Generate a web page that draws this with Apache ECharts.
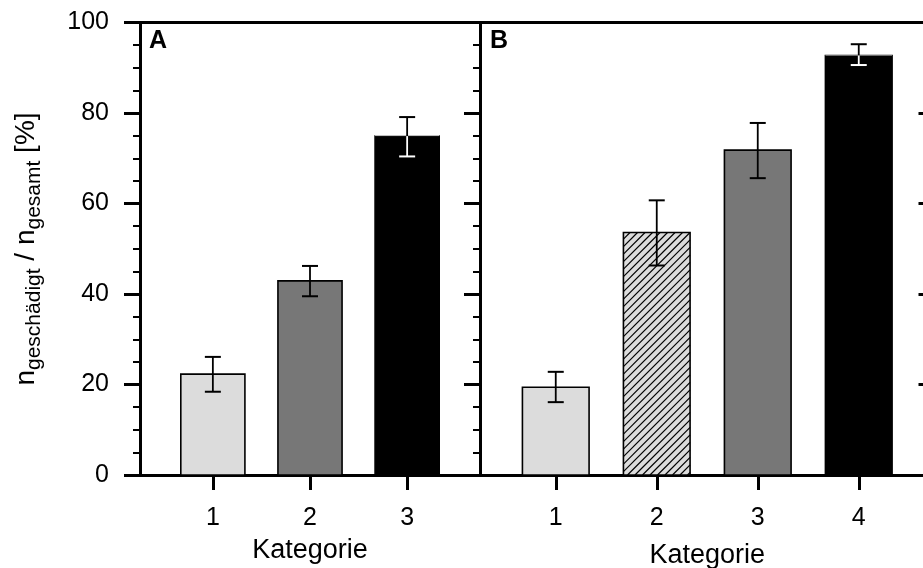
<!DOCTYPE html>
<html><head><meta charset="utf-8">
<script src="https://cdn.jsdelivr.net/npm/echarts@6/dist/echarts.min.js"></script>
<style>html,body{margin:0;padding:0;background:#fff}#c{width:923px;height:568px}</style>
</head><body><div id="c"></div>
<script>
// ---- data ----
const yTicks = [0, 20, 40, 60, 80, 100];
const catsA = [1, 2, 3];
const labelsA = ['1', '2', '3'];
const meanA = [22.3, 42.9, 74.9];
const lowA = [18.4, 39.5, 70.4];
const highA = [26.1, 46.2, 79.1];
const catsB = [1, 2, 3, 4];
const labelsB = ['1', '2', '3', '4'];
const meanB = [19.4, 53.6, 71.8, 92.7];
const lowB = [16.1, 46.3, 65.6, 90.6];
const highB = [22.8, 60.7, 77.8, 95.2];
const xName = 'Kategorie';
const panelNames = ['A', 'B'];

// ---- styling ----
const FF = '"Liberation Sans", Arial, Helvetica, sans-serif';
const fillsA = ['light', 'dark', 'black'];
const fillsB = ['light', 'hatch', 'dark', 'black'];
const BAR_W = 0.66;
const CAP = 16;

function makeRender(fills) {
  return function (params, api) {
    const x = api.value(0), m = api.value(1), lo = api.value(2), hi = api.value(3), idx = api.value(4);
    const tl = api.coord([x - BAR_W / 2, m]);
    const br = api.coord([x + BAR_W / 2, 0]);
    const kind = fills[idx];
    const ch = [];
    const r = { x: tl[0], y: tl[1], width: br[0] - tl[0], height: br[1] - tl[1] };
    const fillColor = kind === 'dark' ? '#777777' : kind === 'black' ? '#000000' : '#dcdcdc';
    ch.push({ type: 'rect', shape: r, style: { fill: fillColor, stroke: null } });
    if (kind === 'hatch') {
      const x0 = r.x, x1 = r.x + r.width, yT = r.y, yB = r.y + r.height;
      const step = 7.5;
      let c = Math.floor((x0 + yT) / step) * step;
      for (; c <= x1 + yB; c += step) {
        const xa = Math.max(x0, c - yB), xb = Math.min(x1, c - yT);
        if (xb <= xa) continue;
        ch.push({ type: 'line', shape: { x1: xa, y1: c - xa, x2: xb, y2: c - xb },
          style: { stroke: '#000', lineWidth: 1.2 } });
      }
    }
    ch.push({ type: 'rect', shape: r, style: { fill: null, stroke: '#000', lineWidth: 1.6 } });
    if (kind === 'black') {
      ch.push({ type: 'line', shape: { x1: r.x, y1: r.y - 0.5, x2: r.x + r.width, y2: r.y - 0.5 },
        style: { stroke: '#c8c8c8', lineWidth: 1 } });
    }
    const pm = api.coord([x, m]), pl = api.coord([x, lo]), ph = api.coord([x, hi]);
    const lowCol = kind === 'black' ? '#ffffff' : '#000000';
    ch.push({ type: 'line', shape: { x1: pm[0], y1: pm[1], x2: ph[0], y2: ph[1] }, style: { stroke: '#000', lineWidth: 1.8 } });
    ch.push({ type: 'line', shape: { x1: ph[0] - CAP / 2, y1: ph[1], x2: ph[0] + CAP / 2, y2: ph[1] }, style: { stroke: '#000', lineWidth: 2 } });
    ch.push({ type: 'line', shape: { x1: pm[0], y1: pm[1], x2: pl[0], y2: pl[1] }, style: { stroke: lowCol, lineWidth: 1.8 } });
    ch.push({ type: 'line', shape: { x1: pl[0] - CAP / 2, y1: pl[1], x2: pl[0] + CAP / 2, y2: pl[1] }, style: { stroke: lowCol, lineWidth: 2 } });
    return { type: 'group', children: ch };
  };
}

const axisLine = { show: true, onZero: false, lineStyle: { color: '#000', width: 3 } };

function xBottom(grid, cats, labels, max, gap) {
  return {
    gridIndex: grid, type: 'value', position: 'bottom', min: 0.25, max: max,
    axisLine: axisLine,
    axisTick: { show: true, customValues: cats, length: 15, lineStyle: { color: '#000', width: 3 } },
    axisLabel: { show: true, customValues: cats, margin: 31, fontSize: 25, fontFamily: FF, color: '#000',
      formatter: v => { const i = cats.indexOf(v); return i >= 0 ? labels[i] : String(v); } },
    splitLine: { show: false },
    name: xName, nameLocation: 'middle', nameGap: gap,
    nameTextStyle: { fontSize: 27, fontFamily: FF, color: '#000', verticalAlign: 'top' }
  };
}
function xTop(grid, max) {
  return { gridIndex: grid, type: 'value', position: 'top', min: 0.25, max: max,
    axisLine: axisLine, axisTick: { show: false }, axisLabel: { show: false }, splitLine: { show: false } };
}
function yAx(grid, pos, ticks, inside, labels) {
  return {
    gridIndex: grid, type: 'value', position: pos, min: yTicks[0], max: yTicks[yTicks.length - 1],
    interval: yTicks[1] - yTicks[0],
    axisLine: axisLine,
    axisTick: { show: ticks, inside: inside, length: 16, lineStyle: { color: '#000', width: 3 } },
    minorTick: { show: ticks, splitNumber: 4, length: 7, lineStyle: { color: '#000', width: 2 } },
    axisLabel: { show: labels, margin: 31, fontSize: 25, fontFamily: FF, color: '#000' },
    splitLine: { show: false }, minorSplitLine: { show: false }
  };
}

const dataA = catsA.map((c, i) => [c, meanA[i], lowA[i], highA[i], i]);
const dataB = catsB.map((c, i) => [c, meanB[i], lowB[i], highB[i], i]);

const option = {
  animation: false,
  backgroundColor: '#ffffff',
  grid: [
    { left: 140, top: 22.5, width: 340, height: 452.5, outerBoundsMode: 'none', containLabel: false },
    { left: 480, top: 22.5, width: 454.5, height: 452.5, outerBoundsMode: 'none', containLabel: false }
  ],
  xAxis: [
    xBottom(0, catsA, labelsA, 3.75, 62), xTop(0, 3.75),
    xBottom(1, catsB, labelsB, 4.75, 67), xTop(1, 4.75)
  ],
  yAxis: [
    yAx(0, 'left', true, false, true), yAx(0, 'right', true, true, false),
    yAx(1, 'left', false, false, false), yAx(1, 'right', true, true, false)
  ],
  series: [
    { type: 'custom', xAxisIndex: 0, yAxisIndex: 0, renderItem: makeRender(fillsA), data: dataA,
      encode: { x: 0, y: [1, 2, 3] }, clip: false },
    { type: 'custom', xAxisIndex: 2, yAxisIndex: 2, renderItem: makeRender(fillsB), data: dataB,
      encode: { x: 0, y: [1, 2, 3] }, clip: false }
  ],
  graphic: [
    { type: 'text', x: 26, y: 249, rotation: Math.PI / 2,
      style: {
        text: '{m|n}{s|geschädigt}{m| / n}{s|gesamt}{m| [%]}',
        align: 'center', verticalAlign: 'middle', textAlign: 'center', textVerticalAlign: 'middle',
        rich: {
          m: { fontSize: 28, fontFamily: FF, lineHeight: 34, fill: '#000', color: '#000' },
          s: { fontSize: 21, fontFamily: FF, lineHeight: 21, padding: [17, 0, 0, 0], fill: '#000', color: '#000' }
        }
      } },
    { type: 'text', x: 149, y: 29, style: { text: panelNames[0], fontSize: 25, fontWeight: 'bold', fontFamily: FF, fill: '#000' } },
    { type: 'text', x: 490, y: 29, style: { text: panelNames[1], fontSize: 25, fontWeight: 'bold', fontFamily: FF, fill: '#000' } }
  ]
};
const chart = echarts.init(document.getElementById('c'), null, { renderer: 'canvas' });
chart.setOption(option);
</script></body></html>
